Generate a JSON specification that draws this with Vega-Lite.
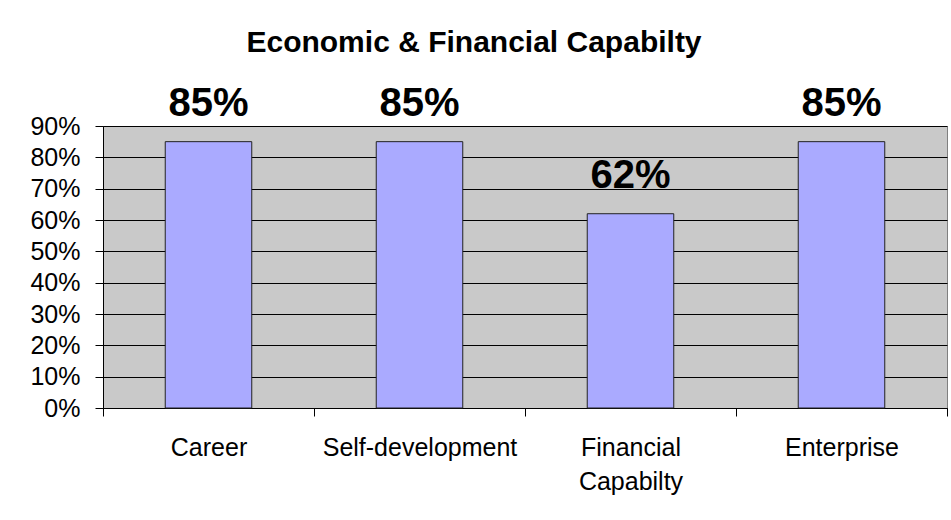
{
  "$schema": "https://vega.github.io/schema/vega-lite/v6.json",
  "width": 844,
  "height": 282,
  "autosize": {"type": "none"},
  "padding": {"left": 103, "top": 126, "right": 4, "bottom": 112},
  "background": "white",
  "title": {
    "text": "Economic & Financial Capabilty",
    "anchor": "middle",
    "dx": -51,
    "offset": 2,
    "baseline": "alphabetic",
    "font": "Liberation Sans",
    "fontSize": 30,
    "fontWeight": "bold",
    "color": "black"
  },
  "data": {
    "values": [
      {"category": "Career", "value": 0.85},
      {"category": "Self-development", "value": 0.85},
      {"category": "Financial Capabilty", "value": 0.62},
      {"category": "Enterprise", "value": 0.85}
    ]
  },
  "config": {
    "view": {"stroke": "#808080", "strokeWidth": 1, "fill": "#C9C9C9"},
    "axis": {
      "labelFont": "Liberation Sans",
      "labelFontSize": 25,
      "labelColor": "black",
      "domainColor": "black",
      "tickColor": "black",
      "tickSize": 8,
      "title": null
    }
  },
  "encoding": {
    "x": {
      "field": "category",
      "type": "nominal",
      "sort": null,
      "scale": {"paddingInner": 0, "paddingOuter": 0},
      "axis": {
        "labelAngle": 0,
        "tickBand": "extent",
        "labelPadding": 39,
        "labelLineHeight": 34,
        "labelBaseline": "alphabetic",
        "labelLimit": 400,
        "grid": false,
        "labelExpr": "datum.value == 'Financial Capabilty' ? ['Financial', 'Capabilty'] : datum.value"
      }
    },
    "y": {
      "field": "value",
      "type": "quantitative",
      "scale": {"domain": [0, 0.9], "nice": false},
      "axis": {
        "values": [0, 0.1, 0.2, 0.3, 0.4, 0.5, 0.6, 0.7, 0.8, 0.9],
        "format": ".0%",
        "grid": true,
        "gridColor": "black",
        "gridOpacity": 1,
        "gridWidth": 1,
        "labelPadding": 15
      }
    }
  },
  "layer": [
    {
      "mark": {"type": "bar", "width": {"band": 0.41}, "fill": "#AAAAFF", "stroke": "#222222", "strokeWidth": 1}
    },
    {
      "mark": {
        "type": "text",
        "dy": -26,
        "baseline": "alphabetic",
        "align": "center",
        "font": "Liberation Sans",
        "fontSize": 40,
        "fontWeight": "bold",
        "color": "black"
      },
      "encoding": {"text": {"field": "value", "type": "quantitative", "format": ".0%"}}
    }
  ]
}
